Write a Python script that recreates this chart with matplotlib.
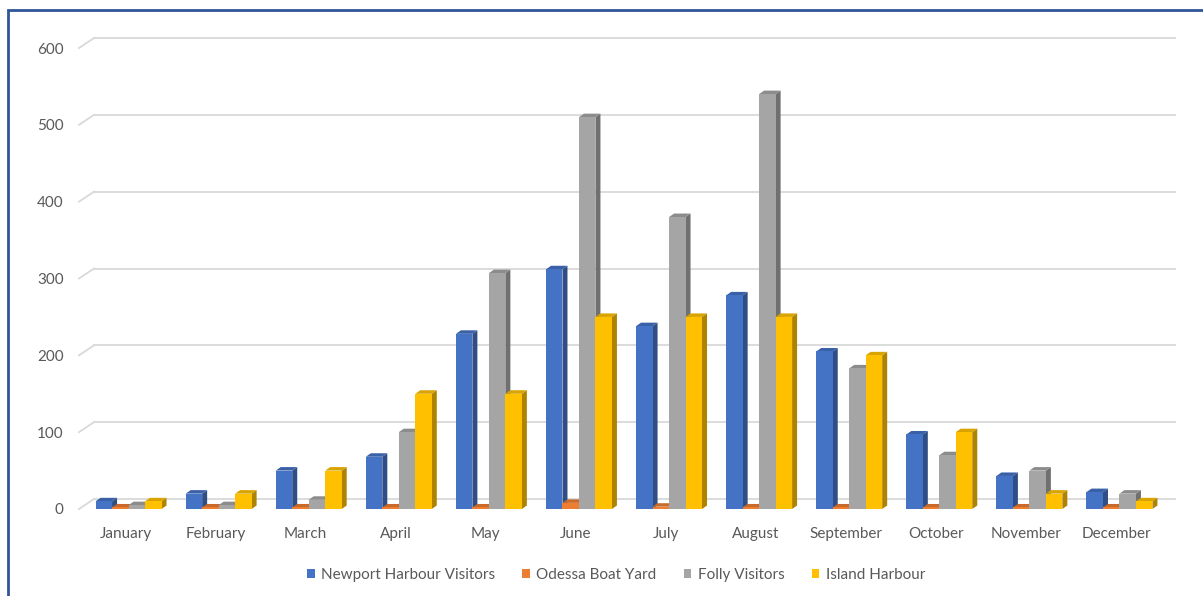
import matplotlib
matplotlib.use("Agg")
import matplotlib.pyplot as plt
import matplotlib.transforms as mtransforms
from matplotlib.patches import Polygon, Rectangle
import matplotlib.colors as mcolors

months = ["January", "February", "March", "April", "May", "June", "July",
          "August", "September", "October", "November", "December"]
newport = [10, 20, 50, 68, 228, 312, 238, 278, 205, 97, 43, 22]
odessa = [2, 2, 2, 2, 2, 8, 3, 2, 2, 2, 2, 2]
folly = [5, 5, 12, 100, 307, 510, 380, 540, 183, 70, 50, 20]
island = [10, 20, 50, 150, 150, 250, 250, 250, 200, 100, 20, 10]

series_names = ["Newport Harbour Visitors", "Odessa Boat Yard", "Folly Visitors", "Island Harbour"]
series_vals = [newport, odessa, folly, island]
colours = ["#4472C4", "#ED7D31", "#A5A5A5", "#FFC000"]

plt.rcParams["font.family"] = ["Lato", "DejaVu Sans"]

fig = plt.figure(figsize=(12.03, 5.96), dpi=100)
ax = fig.add_axes([79 / 1203, 87 / 596, 1081 / 1203, 461 / 596])
ax.set_xlim(-0.55, 11.45)
ax.set_ylim(0, 600)
for s in ax.spines.values():
    s.set_visible(False)
ax.set_facecolor("none")

# back wall offset and bar depth, in pixels
wall_dx, wall_dy = 15, 10
bar_dx, bar_dy = 5, 3.5

back = mtransforms.offset_copy(ax.transData, fig, x=wall_dx, y=wall_dy, units="dots")
grid_col = "#D9D9D9"
inv = ax.transData.inverted()
for v in range(0, 601, 100):
    ax.plot([-0.55, 11.45], [v, v], color=grid_col, lw=1.3, transform=back,
            clip_on=False, zorder=0)
    # short diagonal from the front edge to the wall
    p0 = ax.transData.transform((-0.55, v))
    p1 = p0 + [wall_dx, wall_dy]
    a, b = inv.transform(p0), inv.transform(p1)
    ax.plot([a[0], b[0]], [a[1], b[1]], color=grid_col, lw=1.3,
            clip_on=False, zorder=0)


def shade(c, f):
    r, g, b = mcolors.to_rgb(c)
    return (r * f, g * f, b * f)


width = 0.183
d1 = inv.transform((bar_dx, bar_dy))
d0 = inv.transform((0, 0))
ox, oy = d1[0] - d0[0], d1[1] - d0[1]

z = 2
for i in range(len(months)):
    for k, (vals, col) in enumerate(zip(series_vals, colours)):
        x0 = i + (k - 1.5) * width - width / 2
        x1 = x0 + width
        h = vals[i]
        side = Polygon([(x1, 0), (x1 + ox, oy), (x1 + ox, h + oy), (x1, h)],
                       closed=True, facecolor=shade(col, 0.68), edgecolor="none",
                       zorder=z, clip_on=False)
        top = Polygon([(x0, h), (x0 + ox, h + oy), (x1 + ox, h + oy), (x1, h)],
                      closed=True, facecolor=shade(col, 0.85), edgecolor="none",
                      zorder=z, clip_on=False)
        front = Rectangle((x0, 0), width, h, facecolor=col, edgecolor="none",
                          zorder=z + 0.5, clip_on=False)
        ax.add_patch(side)
        ax.add_patch(top)
        ax.add_patch(front)
        z += 1

ax.set_xticks(range(len(months)))
ax.set_xticklabels(months)
ax.set_yticks(range(0, 601, 100))
ax.tick_params(axis="both", length=0, colors="#595959", labelsize=11)
ax.tick_params(axis="x", pad=13)
ax.tick_params(axis="y", pad=11)
shift = mtransforms.ScaledTranslation(-3 / 100, 0, fig.dpi_scale_trans)
for lab in ax.get_xticklabels():
    lab.set_transform(lab.get_transform() + shift)

handles = [Rectangle((0, 0), 1, 1, facecolor=c, edgecolor="none") for c in colours]
fig.legend(handles, series_names, loc="center", bbox_to_anchor=(0.512, 0.035),
           ncol=4, frameon=False, fontsize=11, labelcolor="#595959",
           handlelength=0.5, handleheight=0.5, handletextpad=0.4, columnspacing=1.8)

# chart border
fig.add_artist(Rectangle((8 / 1203, -0.05), 1.2, (596 - 10) / 596 + 0.05,
                         transform=fig.transFigure, fill=False,
                         edgecolor="#2F5597", lw=2))

fig.savefig("out.png", dpi=100)
